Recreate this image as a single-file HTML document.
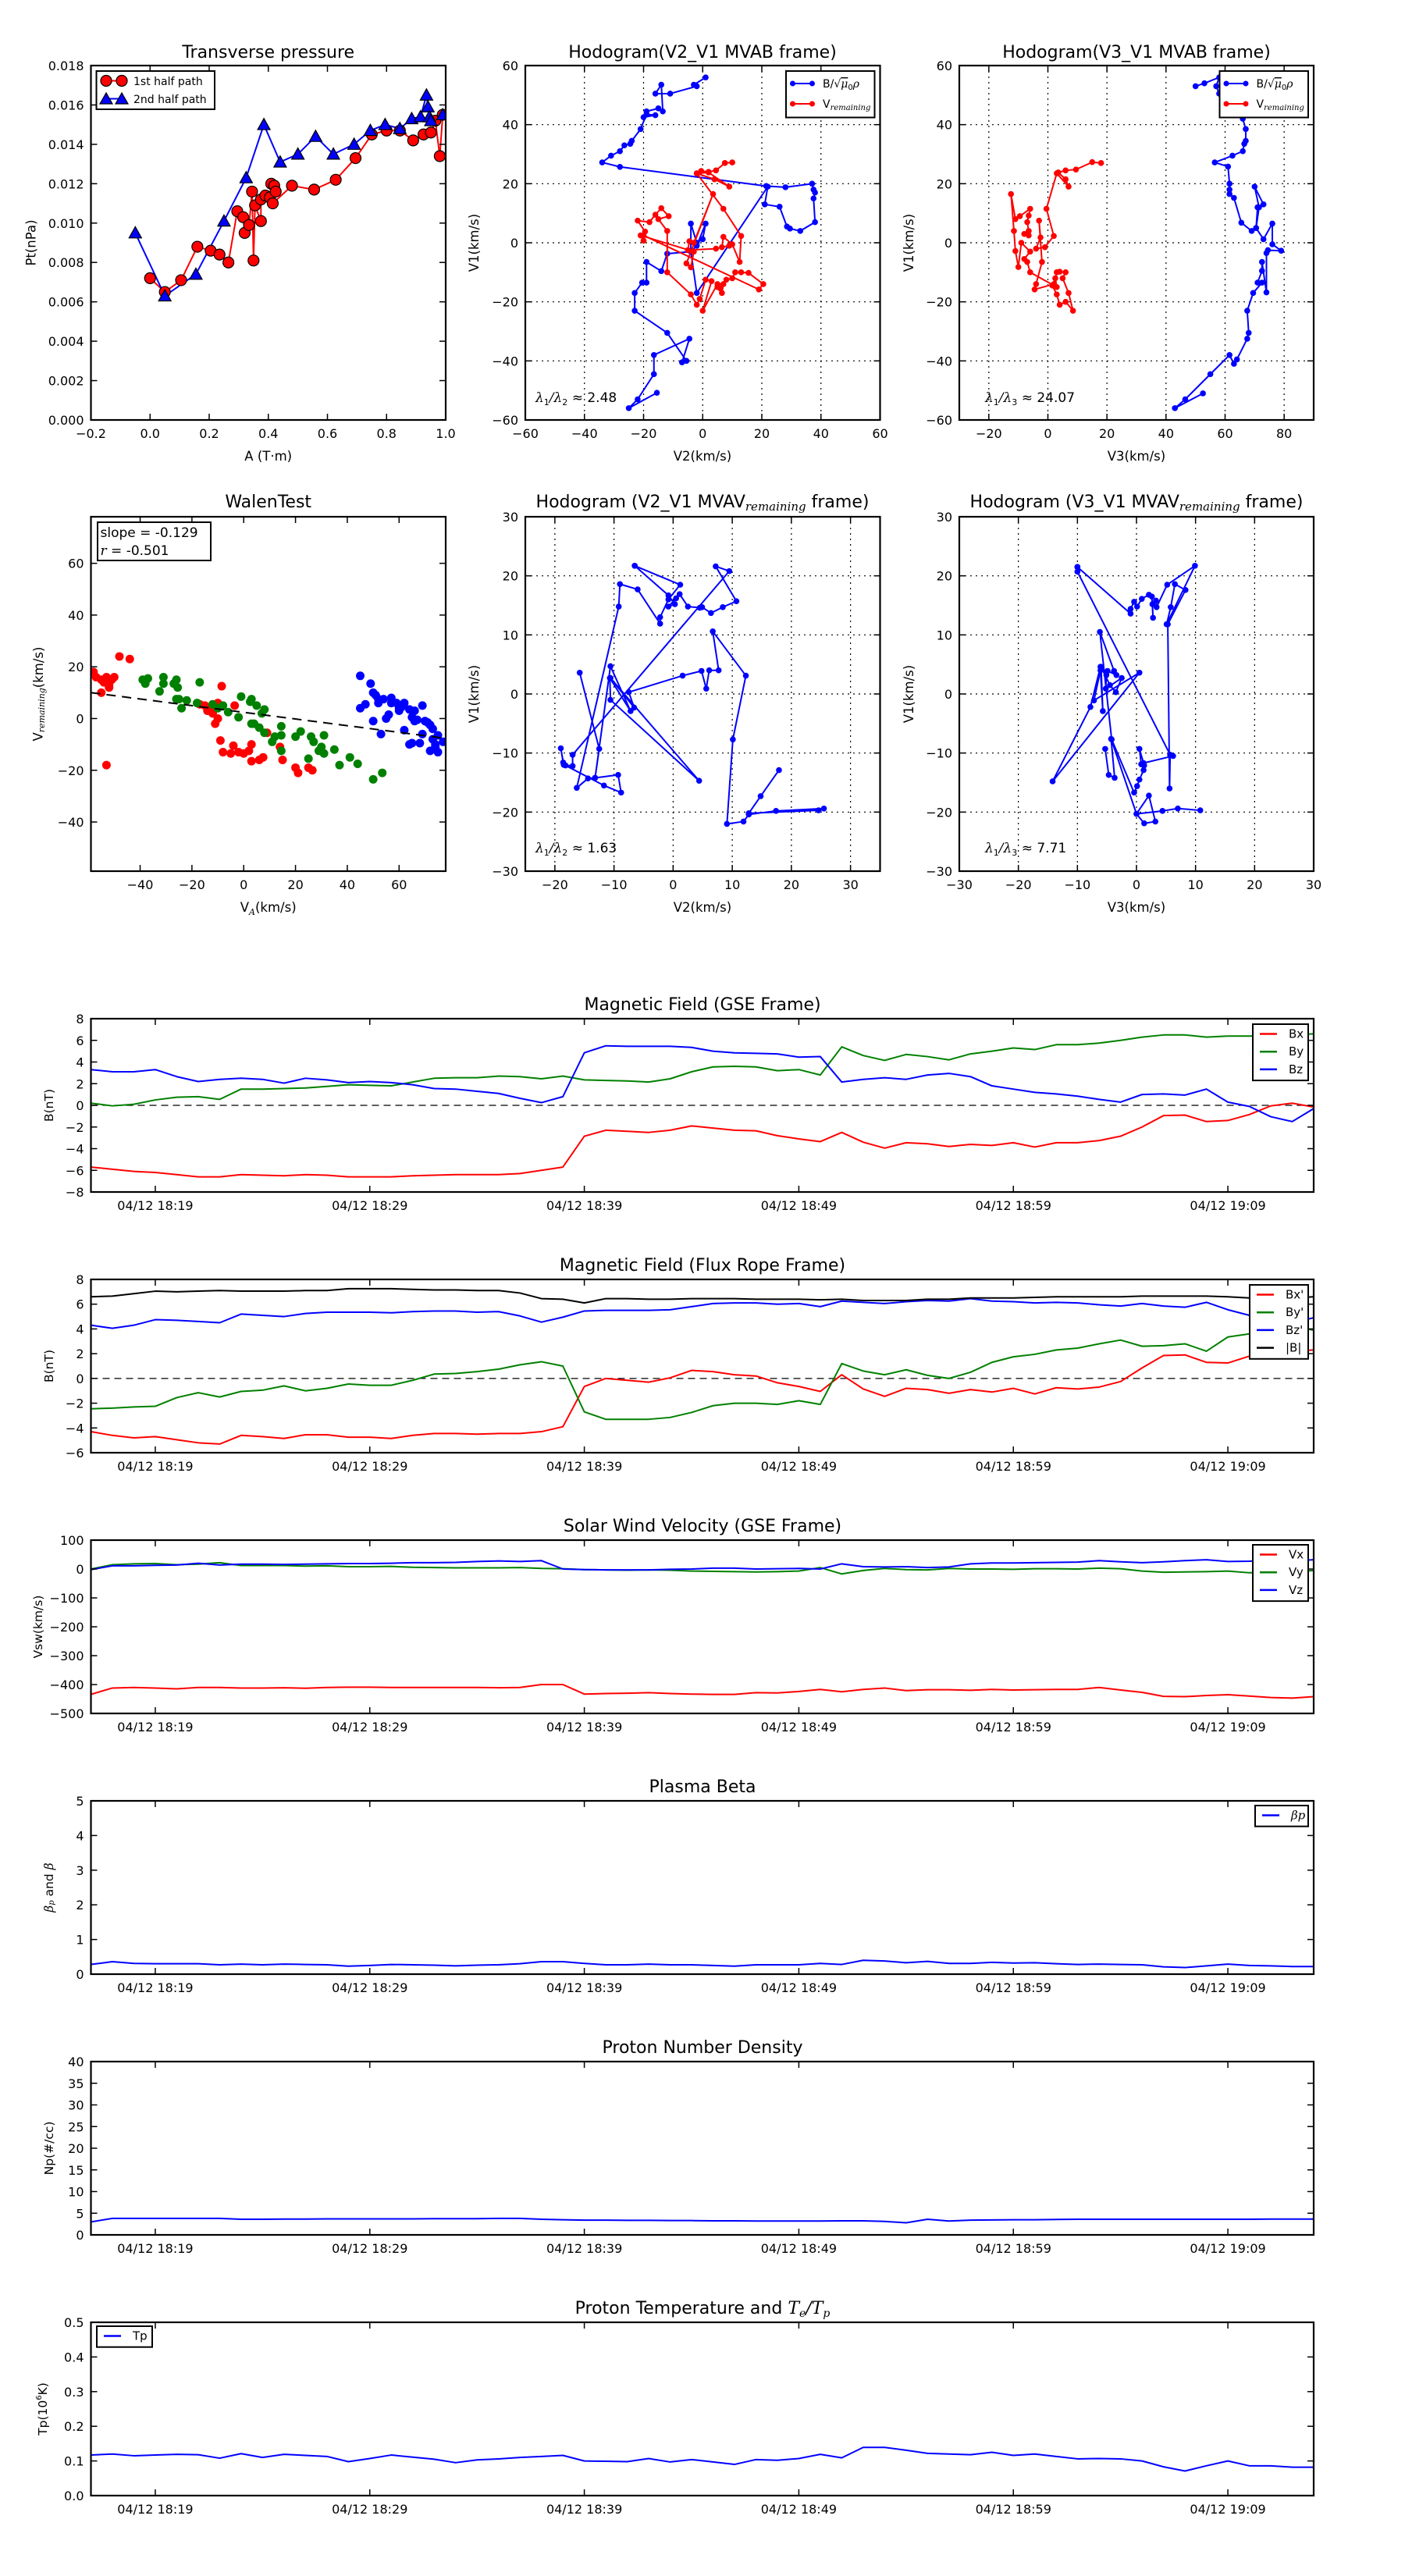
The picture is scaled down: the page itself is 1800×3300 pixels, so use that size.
<!DOCTYPE html>
<html>
<head>
<meta charset="utf-8">
<title>Flux rope analysis figure</title>
<style>
html,body{margin:0;padding:0;background:#fff;}
svg{display:block;font-family:"DejaVu Sans","Liberation Sans",sans-serif;}
</style>
</head>
<body>
<svg id="fig" xmlns="http://www.w3.org/2000/svg" width="1800" height="3300" viewBox="0 0 1800 3300">
<rect x="0" y="0" width="1800" height="3300" fill="#fff"/>
</svg>
<script>
// ---------------- DATA ----------------
// Transverse pressure
const tpRedA = [0.0,0.05,0.105,0.16,0.205,0.235,0.265,0.295,0.315,0.32,0.335,0.345,0.35,0.355,0.375,0.375,0.39,0.405,0.41,0.42,0.425,0.415,0.48,0.555,0.628,0.695,0.75,0.8,0.845,0.89,0.925,0.95,0.965,0.98,0.99];
const tpRedP = [0.0072,0.0065,0.0071,0.0088,0.0086,0.0084,0.0080,0.0106,0.0103,0.0095,0.0099,0.0116,0.0081,0.0109,0.0101,0.0112,0.0114,0.0113,0.0120,0.0119,0.0116,0.0110,0.0119,0.0117,0.0122,0.0133,0.0145,0.0147,0.0147,0.0142,0.0145,0.0146,0.0152,0.0134,0.0155];
const tpBlueA = [-0.05,0.05,0.155,0.25,0.325,0.385,0.44,0.5,0.56,0.62,0.69,0.745,0.795,0.845,0.885,0.915,0.935,0.94,0.945,0.95,0.99];
const tpBlueP = [0.0095,0.0063,0.0074,0.0101,0.0123,0.0150,0.0131,0.0135,0.0144,0.0135,0.0140,0.0147,0.0150,0.0148,0.0153,0.0154,0.0165,0.0159,0.0154,0.0152,0.0155];
// Hodogram V2_V1 MVAB
const h1BlueV2 = [1,-3,-2,-11,-16,-14,-13.5,-15,-19,-20,-16,-19,-21,-24,-24.5,-26.5,-28,-31,-34,-28,21.5,28,37,37.5,38,37.5,38,33,29.5,28.5,26,21,22,-2,-4,-4,-2,0,1,-2,-4,-12,-14,-19,-19,-20.5,-23,-23,-12,-5.5,-7,-4.5,-16.5,-16.5,-22,-25,-15.5];
const h1BlueV1 = [56,53.5,53,50.5,50.5,53.5,44.5,45.5,44.5,42.5,43.2,43.5,38.5,34.5,33.5,33,31,29.5,27.2,25.7,19.2,18.8,20,18,17,15,7,4,4.8,5.5,12.2,13,19,-17,-3,6.5,0,1.2,6.5,-1,-3,-3.7,-9.6,-6.5,-13.5,-13.5,-17,-23,-30.5,-40,-40.5,-32.5,-38,-44.5,-53,-56,-50.8];
const h1RedV2 = [10,7.5,4.5,2,-0.5,-2,4,9,2,-2,7,13,12.5,10,7,6.5,9,4.5,-5,-4.5,-3,3.5,-5.5,-4,-3,-21,-20,-19.5,-22,-18,-16,-14,-11.5,-15,-12,-12,-4,-2,-1,1,3,0,5,6,7,6.5,5,8,10,11,13,15.5,20.5,19,-20];
const h1RedV1 = [27.2,27,24.5,24,24.3,23.5,21.5,19,23.8,23.5,11.5,2.3,-6.5,-0.5,2,-1.5,-1,-2,-2.5,0.5,0,16.5,-7,-8.3,-3,2.5,0.7,3.8,7.5,7,9.5,11.7,9,8,4,-10,-17.5,-21,-19,-12.5,-13,-23,-14,-15.5,-14,-17,-15,-12.5,-12,-10,-10,-10.2,-14,-15.8,2.5];
// Hodogram V3_V1 MVAB
const h3BlueV3 = [50,53,58,57,58,65,66,67,67,66.5,66,62.5,56.5,61,61.5,61.5,61.5,63,65.5,69,70.5,71,73,70,71.5,70.5,73,76,76,79,74.5,74,74,72.5,72.5,71,72.5,69.5,67.5,68,67.5,64,63,61.5,55,46.5,43,52.5];
const h3BlueV1 = [53,54,56,53,50.5,48,42,38.5,34.5,33.5,31,29.5,27.2,25.8,20,18,16.5,15.2,6.8,4,5,12,13,19,12,5,1.2,6.5,-0.5,-2.7,-2.5,-3.5,-16.8,-6.5,-9.5,-13.5,-13.5,-17,-23,-30.5,-32.5,-39.5,-41,-38,-44.5,-53,-56,-51];
const h3RedV3 = [18,15,9.5,6,3.5,6,7,3,-0.5,2,-1,-4,-2.5,-3,-2,-4,-4.5,2,3,4,6,5,7,8.5,6,4,3,1.5,2.5,3,-6,-7,-8,-6,-9,-10,-11,-11.5,-12.5,-11,-9.5,-6,-6.5,-7,-6.5,-6.5,-8];
const h3RedV1 = [27,27.3,24.8,24.5,23.8,21.5,19,23.5,11.5,2.3,-1.5,-2,1.8,7.5,-6.5,-14,-15.8,-14,-10,-9.8,-10,-12,-17,-23,-20,-21,-17.5,-14.5,-12,-15,-10,-6.5,-5.5,-3,0,-8.2,-2.8,4,16.5,8,9,11.5,9.2,7,4,2.5,3];
// Walen test
const wRedVA = [-58,-57,-55,-54,-53,-52,-51,-50,-52,-55,-53,-48,-44,-17,-15,-14,-12,-10,-10,-11,-8.5,-3.5,-9,-8,-5,-4,-2,0,2,3,3,6,7.5,9,14,15,20,21,25,26.5,-13,-12];
const wRedVr = [18,16,15,14,16,13,15,16,12,10,-18,24,23,5.5,5,3,2,6,0,-2,12.5,5,-8.5,-13,-13.5,-10.5,-13,-13.5,-12.5,-10,-16.5,-16,-15,-5.5,-11,-16,-19,-21,-19,-20,4,2.5];
const wGreenVA = [-39,-38,-37,-32.5,-31,-31,-27,-26,-25.5,-26,-25,-24,-22,-17,-18,-12,-10,-8,-6,-2,-1,2.5,3,5,7,8,3,4,6,8,11,12,14.5,14.5,14.5,20,22,25,26,27,29,30,31,31,35,37,41,44,50,53.5];
const wGreenVr = [15,13.5,15.5,10.5,16,13.5,13.5,15,12,7.5,7.5,4,7,14,6,5.5,4,5,2.5,0.5,8.5,6.5,7.5,5,2,3.5,-2,-2,-3.5,-5.5,-9,-7,-6.5,-3,-12.5,-7,-5,-15.5,-7,-9,-12.5,-11,-13.5,-6.5,-12,-18,-15,-17.5,-23.5,-21];
const wBlueVA = [45,45,47,49,50,51,52,52,50,53,54,55,56,57,57,59,60,60,61,62,62,64,64,65,65,66,66,67,68,69,69,70,71,72,72,73,73,74,74,75,75,77];
const wBlueVr = [16.5,4,5.5,13.5,10,9,7.5,6,-1,-6,7.5,0,1.5,8,6,6,4,3,4.5,6,-4.5,3.5,-10,-9.5,0.5,3,-1,-0.5,-9.5,5,-6,-1,-1.5,-2.5,-12.5,-4,-8,-10,-11,-13,-6.5,-9];
const walenSlope = -0.129;
const walenIntercept = 2.4;
// Hodogram V2_V1 MVAV remaining
const m1V2 = [-6.5,1.2,-0.8,-2.2,-2.2,-6,-9,-9.2,-16.3,-14.4,-13.2,-9.3,-8.8,-11.7,-18.2,-18.6,-19,-18.5,-17,-17,9.5,7.2,10.7,8.4,6.4,4.9,4.5,2.5,1.1,0.5,-0.8,0.3,-0.8,-6.5];
const m1V1 = [21.7,18.5,16,13,11.9,17.7,18.6,14.8,-15.9,-14.3,-14.2,-13.7,-16.7,-15.5,-12.1,-11.6,-9.2,-12,-12.2,-10.3,20.8,21.6,15.7,14.7,13.7,14.7,14.6,14.8,16.9,16.2,14.8,15.2,16.7,21.7];
const m1bV2 = [-15.8,-12.5,-13.2,-10.6,-7.2,-10.7,-10.6,4.4,-10.6,-6.6,-7.5,1.6,4.8,5.6,6.1,7.7,6.7,12.3,10.1,9.1,11.9,12.8,17.4,25.5,24.6,12.8,14.8,17.9];
const m1bV1 = [3.6,-9.3,-14.2,4.7,-2.9,2.7,-1,-14.7,2.7,-2.3,0.3,3.1,3.9,0.9,4,4,10.6,3.1,-7.7,-22,-21.6,-20.4,-19.8,-19.4,-19.7,-20.2,-17.3,-12.9];
// Hodogram V3_V1 MVAV remaining
const m3V3 = [-10,-10,5.7,6.2,1.2,0.5,0.8,1.3,1.2,0.5,0.1,-0.4,-4.2,-6.2,-3.8,-3.4,-4.9,-5.1,-5.2,-2.5,-3.5,-4.5,-6,-5.7,-6.1,-7.2,0.5,-14.2,-7.8,-6.1];
const m3V1 = [21.5,20.7,-10.3,-10.5,-11.7,-9.3,-11.9,-12.1,-12.9,-14.5,-15.6,-16.7,-7.7,10.5,3.9,3.2,3.9,3.2,0.9,2.7,0.3,1.5,4.6,-2.9,4,-1.1,3.6,-14.8,-2.2,4.6];
const m3bV3 = [-5.3,-4.7,-3.7,-4.3,0,2.1,3.2,1.3,0,4.4,7,10.8];
const m3bV1 = [-9.3,-13.7,-14.2,-7.6,-20.3,-17.2,-21.6,-21.9,-20.3,-19.8,-19.4,-19.7];
const m3cV3 = [-10,-1,-1,-0.4,0.1,0.9,2.1,2.6,2.8,2.7,3.3,3.4,5.2,9.9,5.1,5.8,6.5,8.3,5.3,5.6,5.7];
const m3cV1 = [21.5,13.6,14.4,15.6,14.8,16.1,16.8,16.5,12.9,15.2,15.8,14.7,18.5,21.7,11.8,14.7,18.6,17.6,11.8,-16,-10.3];
// Time series (1-min samples from 04/12 18:16 to 19:13)
const timeTickLabels = ["04/12 18:19","04/12 18:29","04/12 18:39","04/12 18:49","04/12 18:59","04/12 19:09"];
const timeTickIndex = [3,13,23,33,43,53];
const bx = [-5.7,-5.9,-6.1,-6.2,-6.4,-6.6,-6.6,-6.4,-6.45,-6.5,-6.4,-6.45,-6.6,-6.6,-6.6,-6.5,-6.45,-6.4,-6.4,-6.4,-6.3,-6.0,-5.7,-2.85,-2.3,-2.4,-2.5,-2.3,-1.9,-2.1,-2.3,-2.35,-2.8,-3.1,-3.35,-2.5,-3.4,-3.95,-3.45,-3.55,-3.8,-3.6,-3.7,-3.45,-3.85,-3.45,-3.45,-3.25,-2.85,-2.0,-0.95,-0.9,-1.5,-1.4,-0.85,-0.05,0.2,-0.15];
const by = [0.2,-0.05,0.1,0.5,0.75,0.8,0.55,1.5,1.5,1.55,1.6,1.75,1.9,1.85,1.8,2.15,2.5,2.55,2.55,2.7,2.65,2.45,2.7,2.35,2.3,2.25,2.15,2.45,3.1,3.55,3.6,3.55,3.2,3.3,2.8,5.4,4.6,4.15,4.7,4.5,4.2,4.75,5.0,5.3,5.15,5.6,5.6,5.75,6.0,6.3,6.5,6.5,6.3,6.4,6.4,6.45,6.5,6.6];
const bz = [3.3,3.1,3.1,3.3,2.65,2.2,2.4,2.5,2.4,2.05,2.5,2.35,2.1,2.2,2.1,1.9,1.55,1.5,1.3,1.1,0.65,0.25,0.8,4.85,5.5,5.45,5.45,5.45,5.35,5.0,4.85,4.8,4.75,4.45,4.5,2.15,2.4,2.55,2.4,2.8,2.95,2.65,1.8,1.5,1.2,1.05,0.85,0.55,0.3,1.0,1.05,0.95,1.5,0.3,-0.1,-1.05,-1.5,-0.3];
const bxp = [-4.3,-4.6,-4.8,-4.7,-4.95,-5.2,-5.3,-4.6,-4.7,-4.85,-4.55,-4.55,-4.75,-4.75,-4.85,-4.6,-4.45,-4.45,-4.5,-4.45,-4.45,-4.3,-3.9,-0.65,0.0,-0.15,-0.3,0.05,0.65,0.55,0.3,0.2,-0.35,-0.65,-1.05,0.3,-0.85,-1.45,-0.8,-0.9,-1.2,-0.9,-1.1,-0.8,-1.25,-0.75,-0.85,-0.7,-0.25,0.85,1.85,1.9,1.3,1.25,1.8,2.0,2.2,2.3];
const byp = [-2.45,-2.4,-2.3,-2.25,-1.55,-1.15,-1.5,-1.05,-0.95,-0.6,-1.0,-0.8,-0.45,-0.55,-0.55,-0.15,0.35,0.4,0.55,0.75,1.1,1.35,1.0,-2.7,-3.3,-3.3,-3.3,-3.15,-2.75,-2.2,-2.0,-2.0,-2.1,-1.8,-2.1,1.2,0.6,0.3,0.7,0.25,0.0,0.5,1.3,1.75,1.95,2.3,2.45,2.8,3.1,2.6,2.65,2.8,2.2,3.35,3.6,3.8,4.2,3.9];
const bzp = [4.3,4.05,4.3,4.75,4.7,4.6,4.5,5.2,5.1,5.0,5.25,5.35,5.35,5.35,5.3,5.4,5.45,5.45,5.35,5.4,5.05,4.55,4.95,5.45,5.5,5.5,5.5,5.55,5.8,6.05,6.1,6.1,6.0,6.05,5.8,6.25,6.15,6.05,6.2,6.3,6.25,6.45,6.25,6.2,6.1,6.15,6.1,5.95,5.85,6.05,5.85,5.75,6.15,5.55,5.1,4.7,4.5,4.9];
const bmag = [6.6,6.65,6.85,7.05,7.0,7.05,7.1,7.05,7.05,7.05,7.1,7.1,7.25,7.25,7.25,7.2,7.15,7.15,7.1,7.1,6.9,6.45,6.4,6.1,6.45,6.45,6.4,6.4,6.45,6.45,6.45,6.4,6.4,6.4,6.35,6.4,6.3,6.3,6.3,6.4,6.4,6.5,6.5,6.5,6.55,6.6,6.6,6.6,6.6,6.65,6.65,6.65,6.65,6.6,6.5,6.5,6.5,6.6];
const vx = [-434,-412,-410,-412,-415,-410,-410,-412,-412,-411,-413,-410,-409,-409,-410,-410,-410,-410,-410,-411,-410,-400,-400,-433,-431,-430,-428,-431,-433,-434,-434,-428,-429,-424,-417,-425,-417,-412,-421,-418,-418,-420,-417,-419,-418,-417,-417,-410,-419,-427,-441,-442,-438,-435,-440,-445,-447,-442];
const vy = [0,15,18,19,15,17,22,12,12,12,10,11,8,8,9,6,5,4,4,4,5,2,1,-2,-3,-4,-3,-4,-7,-8,-9,-10,-9,-7,5,-17,-5,2,-2,-3,2,0,0,-1,1,1,0,3,1,-7,-11,-10,-9,-7,-13,-12,-10,-5];
const vz = [-2,11,11,13,14,20,14,17,17,16,17,18,19,19,20,22,22,23,26,28,26,29,0,-2,-3,-3,-3,-1,0,3,3,0,1,2,0,18,8,7,8,5,7,18,21,21,22,23,24,29,25,22,25,29,32,26,27,30,28,32];
const betaP = [0.28,0.36,0.31,0.3,0.3,0.3,0.27,0.29,0.27,0.29,0.28,0.27,0.23,0.25,0.28,0.27,0.26,0.24,0.26,0.27,0.3,0.36,0.36,0.31,0.27,0.27,0.29,0.27,0.27,0.25,0.23,0.27,0.27,0.27,0.31,0.28,0.4,0.38,0.33,0.37,0.31,0.31,0.34,0.32,0.33,0.3,0.28,0.29,0.28,0.27,0.21,0.19,0.24,0.29,0.25,0.24,0.22,0.22];
const np = [3.0,3.8,3.8,3.8,3.8,3.8,3.8,3.6,3.6,3.65,3.65,3.7,3.7,3.7,3.7,3.7,3.75,3.75,3.75,3.8,3.8,3.6,3.5,3.4,3.4,3.35,3.35,3.3,3.3,3.25,3.25,3.2,3.2,3.2,3.2,3.25,3.25,3.1,2.8,3.6,3.2,3.4,3.45,3.5,3.5,3.55,3.6,3.6,3.6,3.6,3.6,3.6,3.6,3.6,3.6,3.65,3.65,3.65];
const tp = [0.117,0.12,0.115,0.117,0.119,0.118,0.108,0.121,0.11,0.119,0.116,0.113,0.098,0.107,0.117,0.111,0.105,0.095,0.103,0.106,0.11,0.113,0.116,0.1,0.099,0.098,0.107,0.097,0.104,0.097,0.09,0.104,0.102,0.107,0.119,0.109,0.139,0.139,0.131,0.122,0.12,0.118,0.125,0.116,0.12,0.113,0.106,0.107,0.106,0.1,0.083,0.071,0.086,0.1,0.086,0.086,0.082,0.082];

// ---------------- DRAWING ----------------
const NS = 'http://www.w3.org/2000/svg';
const svg = document.getElementById('fig');
let clipCount = 0;

function mk(tag, attrs, name, parent) {
  const el = document.createElementNS(NS, tag);
  for (const k in attrs) el.setAttribute(k, attrs[k]);
  
  
  (parent || svg).appendChild(el);
  return el;
}
function txt(x, y, s, size, anchor, name, parent, extra) {
  const a = {x: x, y: y, 'font-size': size, 'text-anchor': anchor || 'middle', fill: '#000'};
  if (extra) for (const k in extra) a[k] = extra[k];
  const t = mk('text', a, name, parent);
  t.textContent = s;
  return t;
}
function span(t, s, extra, name) {
  const sp = mk('tspan', extra || {}, name, t);
  sp.textContent = s;
  return sp;
}
function fmtNum(v, dec) {
  const s = Math.abs(v).toFixed(dec);
  return (v < 0 && Number(s) !== 0 ? '\u2212' : '') + s;
}

function axes(cfg) {
  const g = mk('g', {}, cfg.name);
  const sx = v => cfg.x + (v - cfg.xmin) / (cfg.xmax - cfg.xmin) * cfg.w;
  const sy = v => cfg.y + cfg.h - (v - cfg.ymin) / (cfg.ymax - cfg.ymin) * cfg.h;
  const id = 'clip' + (clipCount++);
  const cp = mk('clipPath', {id: id}, cfg.name + '-clip', g);
  mk('rect', {x: cfg.x, y: cfg.y, width: cfg.w, height: cfg.h}, cfg.name + '-clip-rect', cp);
  // grid
  if (cfg.grid) {
    cfg.xticks.forEach(v => {
      mk('line', {x1: sx(v), x2: sx(v), y1: cfg.y, y2: cfg.y + cfg.h, stroke: '#000', 'stroke-width': 1.2, 'stroke-dasharray': '2,5'}, 'x-grid-line', g);
    });
    cfg.yticks.forEach(v => {
      mk('line', {x1: cfg.x, x2: cfg.x + cfg.w, y1: sy(v), y2: sy(v), stroke: '#000', 'stroke-width': 1.2, 'stroke-dasharray': '2,5'}, 'y-grid-line', g);
    });
  }
  const data = mk('g', {'clip-path': 'url(#' + id + ')'}, cfg.name + '-data', g);
  // ticks
  const tk = 8;
  cfg.xticks.forEach((v, i) => {
    const X = sx(v);
    mk('line', {x1: X, x2: X, y1: cfg.y + cfg.h, y2: cfg.y + cfg.h - tk, stroke: '#000', 'stroke-width': 1.5}, 'x-tick', g);
    mk('line', {x1: X, x2: X, y1: cfg.y, y2: cfg.y + tk, stroke: '#000', 'stroke-width': 1.5}, 'x-tick-top', g);
    const lab = cfg.xlabels ? cfg.xlabels[i] : fmtNum(v, cfg.xdec || 0);
    txt(X, cfg.y + cfg.h + 23, lab, 16, 'middle', 'x-tick-label', g);
  });
  cfg.yticks.forEach((v) => {
    const Y = sy(v);
    mk('line', {x1: cfg.x, x2: cfg.x + tk, y1: Y, y2: Y, stroke: '#000', 'stroke-width': 1.5}, 'y-tick', g);
    mk('line', {x1: cfg.x + cfg.w, x2: cfg.x + cfg.w - tk, y1: Y, y2: Y, stroke: '#000', 'stroke-width': 1.5}, 'y-tick-right', g);
    txt(cfg.x - 9, Y + 6, fmtNum(v, cfg.ydec || 0), 16, 'end', 'y-tick-label', g);
  });
  return {g: g, data: data, sx: sx, sy: sy, cfg: cfg};
}
function frame(ax) {
  const c = ax.cfg;
  mk('rect', {x: c.x, y: c.y, width: c.w, height: c.h, fill: 'none', stroke: '#000', 'stroke-width': 2.2}, c.name + '-frame', ax.g);
}
function poly(ax, xs, ys, color, width, name) {
  const pts = xs.map((v, i) => ax.sx(v).toFixed(2) + ',' + ax.sy(ys[i]).toFixed(2)).join(' ');
  return mk('polyline', {points: pts, fill: 'none', stroke: color, 'stroke-width': width, 'stroke-linejoin': 'round'}, name, ax.data);
}
function dots(ax, xs, ys, color, r, name, stroke) {
  xs.forEach((v, i) => {
    const a = {cx: ax.sx(v), cy: ax.sy(ys[i]), r: r, fill: color};
    if (stroke) { a.stroke = stroke; a['stroke-width'] = 1.2; }
    mk('circle', a, name, ax.data);
  });
}
function tri(ax, xs, ys, color, s, name) {
  xs.forEach((v, i) => {
    const X = ax.sx(v), Y = ax.sy(ys[i]);
    mk('polygon', {points: `${X},${Y - s} ${X - s},${Y + s * 0.8} ${X + s},${Y + s * 0.8}`, fill: color, stroke: '#000', 'stroke-width': 1.2}, name, ax.data);
  });
}
function ylabel(x, cy, s, size, name) {
  return txt(x, cy, s, size, 'middle', name, svg, {transform: `rotate(-90 ${x} ${cy})`, 'dominant-baseline': 'central'});
}
function range(a, b, st) { const r = []; for (let v = a; v <= b + 1e-9; v += st) r.push(Math.round(v * 1e6) / 1e6); return r; }

// ===== Row 1 =====
// Transverse pressure
const ax1 = axes({name: 'transverse-pressure-axes', x: 116.5, y: 84, w: 454.5, h: 454, xmin: -0.2, xmax: 1.0, ymin: 0, ymax: 0.018, xticks: range(-0.2, 1.0, 0.2), yticks: range(0, 0.018, 0.002), xdec: 1, ydec: 3});
poly(ax1, tpRedA, tpRedP, '#f00', 2, 'first-half-path-line');
poly(ax1, tpBlueA, tpBlueP, '#00f', 2, 'second-half-path-line');
dots(ax1, tpRedA, tpRedP, '#f00', 7, 'first-half-marker', '#000');
tri(ax1, tpBlueA, tpBlueP, '#00f', 8, 'second-half-marker');
frame(ax1);
txt(343.7, 74, 'Transverse pressure', 22, 'middle', 'transverse-pressure-title');
txt(343.7, 590, 'A (T\u00b7m)', 16.5, 'middle', 'transverse-pressure-x-label');
ylabel(40, 311, 'Pt(nPa)', 16.5, 'transverse-pressure-y-label');
{
  const lg = mk('g', {}, 'transverse-pressure-legend');
  mk('rect', {x: 123.5, y: 91, width: 151.5, height: 49, fill: '#fff', stroke: '#000', 'stroke-width': 2}, 'legend-box', lg);
  mk('line', {x1: 136, x2: 156, y1: 103.5, y2: 103.5, stroke: '#f00', 'stroke-width': 2}, 'legend-line-first-half', lg);
  mk('circle', {cx: 136, cy: 103.5, r: 7, fill: '#f00', stroke: '#000', 'stroke-width': 1.2}, 'legend-marker-first-half', lg);
  mk('circle', {cx: 156, cy: 103.5, r: 7, fill: '#f00', stroke: '#000', 'stroke-width': 1.2}, 'legend-marker-first-half', lg);
  txt(171, 109, '1st half path', 14, 'start', 'legend-entry-first-half', lg);
  mk('line', {x1: 136, x2: 156, y1: 126.5, y2: 126.5, stroke: '#00f', 'stroke-width': 2}, 'legend-line-second-half', lg);
  mk('polygon', {points: '136,119 128,133 144,133', fill: '#00f', stroke: '#000', 'stroke-width': 1.2}, 'legend-marker-second-half', lg);
  mk('polygon', {points: '156,119 148,133 164,133', fill: '#00f', stroke: '#000', 'stroke-width': 1.2}, 'legend-marker-second-half', lg);
  txt(171, 132, '2nd half path', 14, 'start', 'legend-entry-second-half', lg);
}

function hodoLegend(x, name) {
  const lg = mk('g', {}, name);
  mk('rect', {x: x, y: 91, width: 113.5, height: 59.5, fill: '#fff', stroke: '#000', 'stroke-width': 2}, 'legend-box', lg);
  mk('line', {x1: x + 8.5, x2: x + 33.5, y1: 107, y2: 107, stroke: '#00f', 'stroke-width': 2}, 'legend-line-alfven', lg);
  mk('circle', {cx: x + 8.5, cy: 107, r: 3.5, fill: '#00f'}, 'legend-marker-alfven', lg);
  mk('circle', {cx: x + 33.5, cy: 107, r: 3.5, fill: '#00f'}, 'legend-marker-alfven', lg);
  const t1 = txt(x + 47, 112, 'B/', 14, 'start', 'legend-entry-alfven', lg);
  span(t1, '\u221a', {}, 'sqrt-sign');
  span(t1, '\u03bc', {'font-family': 'DejaVu Serif, serif', 'font-style': 'italic', 'text-decoration': 'overline'}, 'mu-symbol');
  span(t1, '0', {'font-size': 10, dy: 3}, 'mu-subscript');
  span(t1, '\u03c1', {'font-family': 'DejaVu Serif, serif', 'font-style': 'italic', dy: -3}, 'rho-symbol');
  mk('line', {x1: x + 33.5, x2: x + 8.5, y1: 133, y2: 133, stroke: '#f00', 'stroke-width': 2}, 'legend-line-vrem', lg);
  mk('circle', {cx: x + 8.5, cy: 133, r: 3.5, fill: '#f00'}, 'legend-marker-vrem', lg);
  mk('circle', {cx: x + 33.5, cy: 133, r: 3.5, fill: '#f00'}, 'legend-marker-vrem', lg);
  const t2 = txt(x + 47, 138, 'V', 14, 'start', 'legend-entry-vrem', lg);
  span(t2, 'remaining', {'font-size': 10, dy: 3, 'font-family': 'DejaVu Serif, serif', 'font-style': 'italic'}, 'vrem-subscript');
}
function lambdaText(x, y, a, b, val, name) {
  const t = txt(x, y, '', 17, 'start', name);
  span(t, '\u03bb', {'font-family': 'DejaVu Serif, serif', 'font-style': 'italic'}, 'lambda');
  span(t, a, {'font-size': 11, dy: 4}, 'lambda-sub');
  span(t, '/', {dy: -4, 'font-family': 'DejaVu Serif, serif', 'font-style': 'italic'}, 'slash');
  span(t, '\u03bb', {'font-family': 'DejaVu Serif, serif', 'font-style': 'italic'}, 'lambda');
  span(t, b, {'font-size': 11, dy: 4}, 'lambda-sub');
  span(t, ' \u2248 ' + val, {dy: -4}, 'lambda-value');
}

// Hodogram V2_V1 MVAB
const ax2 = axes({name: 'hodogram-v2-v1-mvab-axes', x: 673, y: 84, w: 454.5, h: 454, xmin: -60, xmax: 60, ymin: -60, ymax: 60, xticks: range(-60, 60, 20), yticks: range(-60, 60, 20), grid: true});
poly(ax2, h1BlueV2, h1BlueV1, '#00f', 2, 'alfven-velocity-path');
dots(ax2, h1BlueV2, h1BlueV1, '#00f', 3.8, 'alfven-velocity-point');
poly(ax2, h1RedV2, h1RedV1, '#f00', 2, 'vremaining-path');
dots(ax2, h1RedV2, h1RedV1, '#f00', 3.8, 'vremaining-point');
frame(ax2);
txt(900, 74, 'Hodogram(V2_V1 MVAB frame)', 22, 'middle', 'hodogram-v2-v1-mvab-title');
txt(900, 590, 'V2(km/s)', 16.5, 'middle', 'hodogram-v2-v1-mvab-x-label');
ylabel(607.7, 311, 'V1(km/s)', 16.5, 'hodogram-v2-v1-mvab-y-label');
hodoLegend(1007, 'hodogram-v2-v1-mvab-legend');
lambdaText(686, 515, '1', '2', '2.48', 'hodogram-v2-v1-mvab-eigen-ratio');

// Hodogram V3_V1 MVAB
const ax3 = axes({name: 'hodogram-v3-v1-mvab-axes', x: 1229, y: 84, w: 454, h: 454, xmin: -30, xmax: 90, ymin: -60, ymax: 60, xticks: range(-20, 80, 20), yticks: range(-60, 60, 20), grid: true});
poly(ax3, h3BlueV3, h3BlueV1, '#00f', 2, 'alfven-velocity-path');
dots(ax3, h3BlueV3, h3BlueV1, '#00f', 3.8, 'alfven-velocity-point');
poly(ax3, h3RedV3, h3RedV1, '#f00', 2, 'vremaining-path');
dots(ax3, h3RedV3, h3RedV1, '#f00', 3.8, 'vremaining-point');
frame(ax3);
txt(1456, 74, 'Hodogram(V3_V1 MVAB frame)', 22, 'middle', 'hodogram-v3-v1-mvab-title');
txt(1456, 590, 'V3(km/s)', 16.5, 'middle', 'hodogram-v3-v1-mvab-x-label');
ylabel(1164.5, 311, 'V1(km/s)', 16.5, 'hodogram-v3-v1-mvab-y-label');
hodoLegend(1562.5, 'hodogram-v3-v1-mvab-legend');
lambdaText(1262, 515, '1', '3', '24.07', 'hodogram-v3-v1-mvab-eigen-ratio');

// ===== Row 2 =====
const ax4 = axes({name: 'walen-test-axes', x: 116.5, y: 662, w: 454.5, h: 454, xmin: -59, xmax: 78, ymin: -59, ymax: 78, xticks: range(-40, 60, 20), yticks: range(-40, 60, 20)});
dots(ax4, wRedVA, wRedVr, '#f00', 5.5, 'walen-point-red');
dots(ax4, wGreenVA, wGreenVr, '#008000', 5.5, 'walen-point-green');
dots(ax4, wBlueVA, wBlueVr, '#00f', 5.5, 'walen-point-blue');
mk('line', {x1: ax4.sx(-59), y1: ax4.sy(walenSlope * -59 + walenIntercept), x2: ax4.sx(78), y2: ax4.sy(walenSlope * 78 + walenIntercept), stroke: '#000', 'stroke-width': 2, 'stroke-dasharray': '12,8'}, 'walen-fit-line', ax4.data);
frame(ax4);
{
  const lg = mk('g', {}, 'walen-stats-box');
  mk('rect', {x: 125, y: 669, width: 145, height: 49, fill: '#fff', stroke: '#000', 'stroke-width': 2}, 'stats-box', lg);
  txt(128.5, 688, 'slope = -0.129', 17, 'start', 'slope-text', lg);
  const t = txt(128.5, 711, '', 17, 'start', 'correlation-text', lg);
  span(t, 'r', {'font-family': 'DejaVu Serif, serif', 'font-style': 'italic'}, 'r-symbol');
  span(t, ' = -0.501', {}, 'r-value');
}
txt(343.7, 650, 'WalenTest', 22, 'middle', 'walen-test-title');
{
  const t = txt(343.7, 1168, 'V', 16.5, 'middle', 'walen-test-x-label');
  span(t, 'A', {'font-size': 11, dy: 4, 'font-family': 'DejaVu Serif, serif', 'font-style': 'italic'}, 'va-subscript');
  span(t, '(km/s)', {dy: -4}, 'va-units');
}
{
  const t = txt(49, 889, 'V', 16.5, 'middle', 'walen-test-y-label', svg, {transform: 'rotate(-90 49 889)', 'dominant-baseline': 'central'});
  span(t, 'remaining', {'font-size': 11, dy: 4, 'font-family': 'DejaVu Serif, serif', 'font-style': 'italic'}, 'vrem-subscript');
  span(t, '(km/s)', {dy: -4}, 'vrem-units');
}

function mvavTitle(cx, y, pre, name) {
  const t = txt(cx, y, pre, 22, 'middle', name);
  span(t, 'remaining', {'font-size': 15, dy: 4, 'font-family': 'DejaVu Serif, serif', 'font-style': 'italic'}, 'remaining-subscript');
  span(t, ' frame)', {dy: -4}, 'title-suffix');
}
const ax5 = axes({name: 'hodogram-v2-v1-mvav-axes', x: 673, y: 662, w: 454.5, h: 454, xmin: -25, xmax: 35, ymin: -30, ymax: 30, xticks: range(-20, 30, 10), yticks: range(-30, 30, 10), grid: true});
poly(ax5, m1V2, m1V1, '#00f', 2, 'vremaining-path-a');
dots(ax5, m1V2, m1V1, '#00f', 3.8, 'vremaining-point');
poly(ax5, m1bV2, m1bV1, '#00f', 2, 'vremaining-path-b');
dots(ax5, m1bV2, m1bV1, '#00f', 3.8, 'vremaining-point');
frame(ax5);
mvavTitle(900, 650, 'Hodogram (V2_V1 MVAV', 'hodogram-v2-v1-mvav-title');
txt(900, 1168, 'V2(km/s)', 16.5, 'middle', 'hodogram-v2-v1-mvav-x-label');
ylabel(607.7, 889, 'V1(km/s)', 16.5, 'hodogram-v2-v1-mvav-y-label');
lambdaText(686, 1092, '1', '2', '1.63', 'hodogram-v2-v1-mvav-eigen-ratio');

const ax6 = axes({name: 'hodogram-v3-v1-mvav-axes', x: 1229, y: 662, w: 454, h: 454, xmin: -30, xmax: 30, ymin: -30, ymax: 30, xticks: range(-30, 30, 10), yticks: range(-30, 30, 10), grid: true});
poly(ax6, m3V3, m3V1, '#00f', 2, 'vremaining-path-a');
dots(ax6, m3V3, m3V1, '#00f', 3.8, 'vremaining-point');
poly(ax6, m3bV3, m3bV1, '#00f', 2, 'vremaining-path-b');
dots(ax6, m3bV3, m3bV1, '#00f', 3.8, 'vremaining-point');
poly(ax6, m3cV3, m3cV1, '#00f', 2, 'vremaining-path-c');
dots(ax6, m3cV3, m3cV1, '#00f', 3.8, 'vremaining-point');
frame(ax6);
mvavTitle(1456, 650, 'Hodogram (V3_V1 MVAV', 'hodogram-v3-v1-mvav-title');
txt(1456, 1168, 'V3(km/s)', 16.5, 'middle', 'hodogram-v3-v1-mvav-x-label');
ylabel(1164.5, 889, 'V1(km/s)', 16.5, 'hodogram-v3-v1-mvav-y-label');
lambdaText(1262, 1092, '1', '3', '7.71', 'hodogram-v3-v1-mvav-eigen-ratio');

// ===== Time series =====
const tIdx = bx.map((_, i) => i);
function tsAxes(top, ymin, ymax, yticks, ydec, name) {
  return axes({name: name, x: 116.5, y: top, w: 1566.5, h: 222, xmin: 0, xmax: 57, ymin: ymin, ymax: ymax, xticks: timeTickIndex, xlabels: timeTickLabels, yticks: yticks, ydec: ydec});
}
function zeroLine(ax) {
  mk('line', {x1: ax.cfg.x, x2: ax.cfg.x + ax.cfg.w, y1: ax.sy(0), y2: ax.sy(0), stroke: '#000', 'stroke-width': 1.3, 'stroke-dasharray': '9,6'}, 'zero-reference-line', ax.data);
}
function tsLegend(x, y, w, entries, name) {
  const lg = mk('g', {}, name);
  const h = entries.length * 22.7 + 4;
  mk('rect', {x: x, y: y, width: w, height: h, fill: '#fff', stroke: '#000', 'stroke-width': 2}, 'legend-box', lg);
  entries.forEach((e, i) => {
    const cy = y + 12.5 + i * 22.7;
    mk('line', {x1: x + 9, x2: x + 31, y1: cy, y2: cy, stroke: e[1], 'stroke-width': 2.5}, 'legend-line', lg);
    const t = txt(x + 46, cy + 5, e[0], 15, 'start', 'legend-entry', lg);
    if (e[2]) { t.setAttribute('font-family', 'DejaVu Serif, serif'); t.setAttribute('font-style', 'italic'); }
  });
}
function tsTitle(top, s, name) { return txt(900, top - 11, s, 22, 'middle', name); }

// Magnetic GSE
const axB = tsAxes(1305, -8, 8, range(-8, 8, 2), 0, 'magnetic-field-gse-axes');
zeroLine(axB);
poly(axB, tIdx, bx, '#f00', 2, 'bx-line');
poly(axB, tIdx, by, '#008000', 2, 'by-line');
poly(axB, tIdx, bz, '#00f', 2, 'bz-line');
frame(axB);
tsTitle(1305, 'Magnetic Field (GSE Frame)', 'magnetic-field-gse-title');
ylabel(63, 1416, 'B(nT)', 15.5, 'magnetic-field-gse-y-label');
tsLegend(1605, 1312, 71, [['Bx', '#f00'], ['By', '#008000'], ['Bz', '#00f']], 'magnetic-field-gse-legend');

// Flux rope frame
const axF = tsAxes(1639, -6, 8, range(-6, 8, 2), 0, 'magnetic-field-flux-rope-axes');
zeroLine(axF);
poly(axF, tIdx, bxp, '#f00', 2, 'bx-prime-line');
poly(axF, tIdx, byp, '#008000', 2, 'by-prime-line');
poly(axF, tIdx, bzp, '#00f', 2, 'bz-prime-line');
poly(axF, tIdx, bmag, '#000', 2, 'b-magnitude-line');
frame(axF);
tsTitle(1639, 'Magnetic Field (Flux Rope Frame)', 'magnetic-field-flux-rope-title');
ylabel(63, 1750, 'B(nT)', 15.5, 'magnetic-field-flux-rope-y-label');
tsLegend(1601, 1646, 75, [["Bx'", '#f00'], ["By'", '#008000'], ["Bz'", '#00f'], ['|B|', '#000']], 'magnetic-field-flux-rope-legend');

// Velocity
const axV = tsAxes(1973, -500, 100, range(-500, 100, 100), 0, 'solar-wind-velocity-axes');
poly(axV, tIdx, vx, '#f00', 2, 'vx-line');
poly(axV, tIdx, vy, '#008000', 2, 'vy-line');
poly(axV, tIdx, vz, '#00f', 2, 'vz-line');
frame(axV);
tsTitle(1973, 'Solar Wind Velocity (GSE Frame)', 'solar-wind-velocity-title');
ylabel(49, 2084, 'Vsw(km/s)', 15.5, 'solar-wind-velocity-y-label');
tsLegend(1605, 1979, 71, [['Vx', '#f00'], ['Vy', '#008000'], ['Vz', '#00f']], 'solar-wind-velocity-legend');

// Plasma beta
const axBeta = tsAxes(2307, 0, 5, range(0, 5, 1), 0, 'plasma-beta-axes');
poly(axBeta, tIdx, betaP, '#00f', 2, 'beta-p-line');
frame(axBeta);
tsTitle(2307, 'Plasma Beta', 'plasma-beta-title');
{
  const t = txt(63, 2418, '', 15.5, 'middle', 'plasma-beta-y-label', svg, {transform: 'rotate(-90 63 2418)', 'dominant-baseline': 'central'});
  span(t, '\u03b2', {'font-family': 'DejaVu Serif, serif', 'font-style': 'italic'}, 'beta-symbol');
  span(t, 'p', {'font-size': 10, dy: 3, 'font-family': 'DejaVu Serif, serif', 'font-style': 'italic'}, 'beta-subscript');
  span(t, ' and ', {dy: -3}, 'and-word');
  span(t, '\u03b2', {'font-family': 'DejaVu Serif, serif', 'font-style': 'italic'}, 'beta-symbol');
}
tsLegend(1608, 2313, 68, [['\u03b2p', '#00f', true]], 'plasma-beta-legend');

// Density
const axN = tsAxes(2641, 0, 40, range(0, 40, 5), 0, 'proton-density-axes');
poly(axN, tIdx, np, '#00f', 2, 'np-line');
frame(axN);
tsTitle(2641, 'Proton Number Density', 'proton-density-title');
ylabel(63, 2752, 'Np(#/cc)', 15.5, 'proton-density-y-label');

// Temperature
const axT = tsAxes(2975, 0, 0.5, range(0, 0.5, 0.1), 1, 'proton-temperature-axes');
poly(axT, tIdx, tp, '#00f', 2, 'tp-line');
frame(axT);
{
  const t = tsTitle(2975, 'Proton Temperature and ', 'proton-temperature-title');
  span(t, 'T', {'font-family': 'DejaVu Serif, serif', 'font-style': 'italic'}, 'te-symbol');
  span(t, 'e', {'font-size': 14, dy: 4, 'font-family': 'DejaVu Serif, serif', 'font-style': 'italic'}, 'te-subscript');
  span(t, '/T', {dy: -4, 'font-family': 'DejaVu Serif, serif', 'font-style': 'italic'}, 'tp-symbol');
  span(t, 'p', {'font-size': 14, dy: 4, 'font-family': 'DejaVu Serif, serif', 'font-style': 'italic'}, 'tp-subscript');
}
{
  const t = txt(55, 3086, 'Tp(10', 15.5, 'middle', 'proton-temperature-y-label', svg, {transform: 'rotate(-90 55 3086)', 'dominant-baseline': 'central'});
  span(t, '6', {'font-size': 10, dy: -5}, 'exponent');
  span(t, 'K)', {dy: 5}, 'units');
}
tsLegend(124, 2980, 71, [['Tp', '#00f']], 'proton-temperature-legend');
</script>
</body>
</html>
